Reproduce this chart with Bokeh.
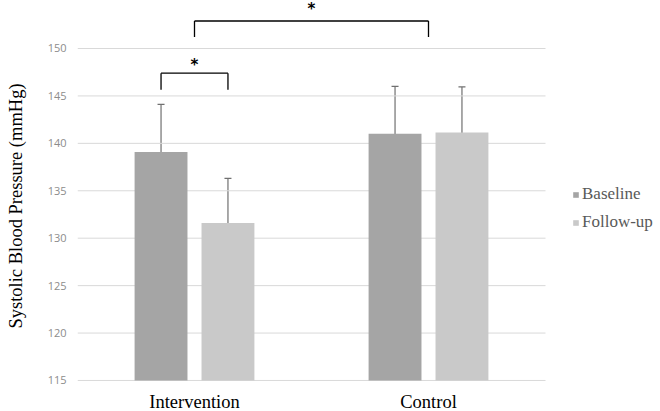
from bokeh.plotting import figure
from bokeh.models import (ColumnDataSource, Range1d, FixedTicker, Whisker, TeeHead,
                          Legend, LegendItem)
from bokeh.transform import dodge
from bokeh.core.properties import value
from bokeh.embed import file_html
from bokeh.resources import INLINE

groups = ["Intervention", "Control"]
baseline = [139.1, 141.0]
followup = [131.6, 141.15]
baseline_err = [5.0, 5.0]
followup_err = [4.7, 4.8]
y_ticks = [115, 120, 125, 130, 135, 140, 145, 150]

# significance brackets (group index + offset for each end)
sig_left = [0, 0]
sig_left_off = [-0.143, 0.0]
sig_right = [0, 1]
sig_right_off = [0.143, 0.0]
sig_top = [147.4, 152.9]
sig_bottom = [145.65, 151.2]
sig_label = ["*", "*"]

BASE_C = "#a5a5a5"
FU_C = "#c9c9c9"
SERIF = "Liberation Serif"
OFF = 0.143
W = 0.226
Y0 = y_ticks[0]

xpos = [i + 0.5 for i in range(len(groups))]   # category centres
n = len(groups)

p = figure(width=660, height=411, x_range=Range1d(0, n + 115 / 234),
           y_range=Range1d(111.73, 155.06), output_backend="svg", toolbar_location=None,
           min_border_left=77, min_border_right=0, min_border_top=0, min_border_bottom=0)
p.outline_line_color = None
p.background_fill_color = "white"
p.xgrid.grid_line_color = None
p.ygrid.grid_line_color = None
p.xaxis.visible = False

# horizontal gridlines over the category area only
p.segment(x0=[0] * len(y_ticks), x1=[n] * len(y_ticks), y0=y_ticks, y1=y_ticks,
          line_color="#d9d9d9", line_width=1)

src = ColumnDataSource(dict(
    x=xpos, g=groups, base=baseline, fu=followup, y0=[Y0] * n,
    b_up=[v + e for v, e in zip(baseline, baseline_err)],
    b_lo=[v - e for v, e in zip(baseline, baseline_err)],
    f_up=[v + e for v, e in zip(followup, followup_err)],
    f_lo=[v - e for v, e in zip(followup, followup_err)],
))

rb = p.vbar(x=dodge("x", -OFF), top="base", bottom=Y0, width=W,
            source=src, fill_color=BASE_C, line_color=None)
rf = p.vbar(x=dodge("x", OFF), top="fu", bottom=Y0, width=W,
            source=src, fill_color=FU_C, line_color=None)

for off, up, lo in [(-OFF, "b_up", "b_lo"), (OFF, "f_up", "f_lo")]:
    head = dict(size=7, line_color="#707070", line_width=1.2)
    wk = Whisker(source=src, base=dodge("x", off), upper=up, lower=lo,
                 line_color="#707070", line_width=1.2,
                 upper_head=TeeHead(**head), lower_head=TeeHead(**head))
    p.add_layout(wk)

# category labels under the bars
p.text(x="x", y="y0", text="g", source=src, text_align="center", text_baseline="middle",
       text_font=value(SERIF), text_font_size="18.5px", text_color="black", y_offset=22)

lx = [xpos[g] + o for g, o in zip(sig_left, sig_left_off)]
rx = [xpos[g] + o for g, o in zip(sig_right, sig_right_off)]
sig = ColumnDataSource(dict(lx=lx, rx=rx, mx=[(a + b) / 2 for a, b in zip(lx, rx)],
                            top=sig_top, bot=sig_bottom, lab=sig_label, yoff=[-8, -12]))
p.segment(x0="lx", y0="top", x1="rx", y1="top", source=sig, line_color="black", line_width=1.3)
p.segment(x0="lx", y0="top", x1="lx", y1="bot", source=sig, line_color="black", line_width=1.3)
p.segment(x0="rx", y0="top", x1="rx", y1="bot", source=sig, line_color="black", line_width=1.3)
p.text(x="mx", y="top", text="lab", source=sig, text_align="center", text_baseline="middle",
       text_font=value("DejaVu Sans"), text_font_style="bold", text_font_size="15px",
       text_color="black", y_offset="yoff")

p.yaxis.ticker = FixedTicker(ticks=y_ticks)
p.yaxis.axis_line_color = None
p.yaxis.major_tick_line_color = None
p.yaxis.minor_tick_line_color = None
p.yaxis.major_tick_out = 0
p.yaxis.major_tick_in = 0
p.yaxis.minor_tick_out = 0
p.yaxis.minor_tick_in = 0
p.yaxis.major_label_text_font = "Open Sans"
p.yaxis.major_label_text_font_size = "11px"
p.yaxis.major_label_text_color = "#8c8c8c"
p.yaxis.major_label_standoff = 11
p.yaxis.axis_label = "Systolic Blood Pressure (mmHg)"
p.yaxis.axis_label_text_font = SERIF
p.yaxis.axis_label_text_font_style = "normal"
p.yaxis.axis_label_text_font_size = "18.5px"
p.yaxis.axis_label_text_color = "black"
p.yaxis.axis_label_standoff = 19

legend = Legend(items=[LegendItem(label="Baseline", renderers=[rb]),
                       LegendItem(label="Follow-up", renderers=[rf])],
                location=(495, 179), orientation="vertical",
                label_text_font=SERIF, label_text_font_size="17px", label_text_color="#595959",
                glyph_width=7, glyph_height=7, label_standoff=3, spacing=8,
                border_line_color=None, background_fill_alpha=0, padding=0, margin=0)
p.add_layout(legend, "center")

open("out.html", "w").write(file_html(p, INLINE))
